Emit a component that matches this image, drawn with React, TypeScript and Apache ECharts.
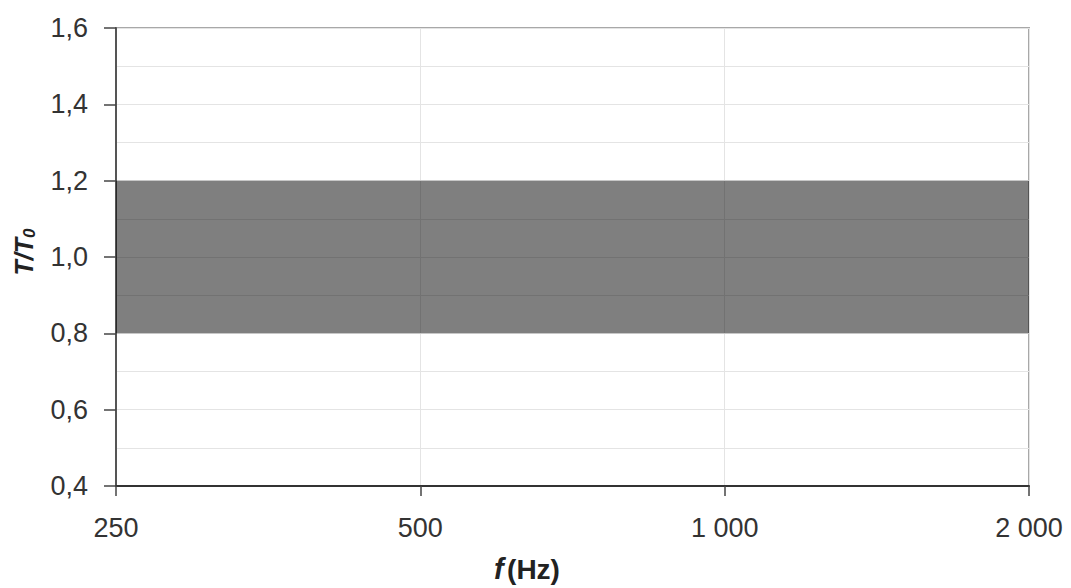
import React, { useEffect, useRef } from "react";
import * as echarts from "echarts";

// Data
const frequencies = [250, 2000];
const lowerLimit = [0.8, 0.8];
const upperLimit = [1.2, 1.2];
const xTickFrequencies = [250, 500, 1000, 2000];
const yTickValues = [0.4, 0.6, 0.8, 1.0, 1.2, 1.4, 1.6];

const BASE_F = xTickFrequencies[0];
const toX = (f: number) => Math.log2(f / BASE_F);
const fmtFreq = (v: number) =>
  String(Math.round(BASE_F * Math.pow(2, v))).replace(/\B(?=(\d{3})+(?!\d))/g, " ");
const fmtY = (v: number) => v.toFixed(1).replace(".", ",");

const FONT = "Liberation Sans, Arial, sans-serif";

export default function App() {
  const ref = useRef<HTMLDivElement>(null);
  useEffect(() => {
    if (!ref.current) return;
    const chart = echarts.init(ref.current, undefined, { renderer: "svg" });
    const xMin = toX(xTickFrequencies[0]);
    const xMax = toX(xTickFrequencies[xTickFrequencies.length - 1]);
    const yMin = yTickValues[0];
    const yMax = yTickValues[yTickValues.length - 1];
    const bandData = frequencies.map((f, i) => [toX(f), lowerLimit[i], upperLimit[i]]);
    chart.setOption({
      animation: false,
      backgroundColor: "#ffffff",
      grid: {
        left: 116,
        right: 42,
        top: 28,
        bottom: 102,
        show: true,
        borderColor: "#a8a8a8",
        borderWidth: 2,
        backgroundColor: "transparent",
      },
      xAxis: [
        {
          type: "value",
          min: xMin,
          max: xMax,
          interval: 1,
          axisLine: { show: true, onZero: false, lineStyle: { color: "#333333", width: 2 } },
          axisTick: { show: true, length: 10, lineStyle: { color: "#444444", width: 1.5 } },
          axisLabel: {
            formatter: fmtFreq,
            color: "#333333",
            fontSize: 27,
            fontFamily: FONT,
            margin: 28,
          },
          splitLine: { show: true, lineStyle: { color: "#e4e4e4", width: 1 } },
        },
      ],
      yAxis: [
        {
          type: "value",
          min: yMin,
          max: yMax,
          interval: 0.2,
          axisLine: { show: true, onZero: false, lineStyle: { color: "#555555", width: 2 } },
          axisTick: { show: true, length: 12, lineStyle: { color: "#444444", width: 1.5 } },
          axisLabel: {
            formatter: fmtY,
            color: "#333333",
            fontSize: 27,
            fontFamily: FONT,
            margin: 28,
          },
          splitLine: { show: true, lineStyle: { color: "#e4e4e4", width: 1 } },
          minorTick: { show: false, splitNumber: 2 },
          minorSplitLine: { show: true, lineStyle: { color: "#e4e4e4", width: 1 } },
        },
      ],
      series: [
        {
          type: "custom",
          name: "tolerance",
          xAxisIndex: 0,
          yAxisIndex: 0,
          silent: true,
          data: bandData,
          renderItem: (params: any, api: any) => {
            if (params.dataIndex !== 0) return null;
            const pts: number[][] = [];
            for (let i = 0; i < bandData.length; i++) {
              pts.push(api.coord([bandData[i][0], bandData[i][2]]));
            }
            for (let i = bandData.length - 1; i >= 0; i--) {
              pts.push(api.coord([bandData[i][0], bandData[i][1]]));
            }
            return {
              type: "polygon",
              shape: { points: pts },
              style: { fill: "rgba(0,0,0,0.5)" },
            };
          },
        },
      ],
      graphic: [
        {
          type: "text",
          x: 24,
          y: 252,
          rotation: Math.PI / 2,
          style: {
            text: "{t|T/T}{s|0}",
            align: "center",
            verticalAlign: "middle",
            rich: {
              t: {
                fontSize: 25,
                fontWeight: "bold",
                fontStyle: "italic",
                fontFamily: FONT,
                fill: "#222222",
              },
              s: {
                fontSize: 17,
                fontWeight: "bold",
                fontStyle: "italic",
                fontFamily: FONT,
                fill: "#222222",
                verticalAlign: "bottom",
                padding: [10, 0, 0, 0],
              },
            },
          },
        },
        {
          type: "text",
          x: 527,
          y: 569,
          style: {
            text: "{f|f} {h|(Hz)}",
            align: "center",
            verticalAlign: "middle",
            rich: {
              f: {
                fontSize: 29,
                fontWeight: "bold",
                fontStyle: "italic",
                fontFamily: FONT,
                fill: "#222222",
              },
              h: {
                fontSize: 28,
                fontWeight: "bold",
                fontFamily: FONT,
                fill: "#222222",
              },
            },
          },
        },
      ],
    });
    return () => chart.dispose();
  }, []);
  return (
    <div
      ref={ref}
      style={{ position: "fixed", left: 0, top: 0, width: 1071, height: 588, background: "#fff" }}
    />
  );
}
